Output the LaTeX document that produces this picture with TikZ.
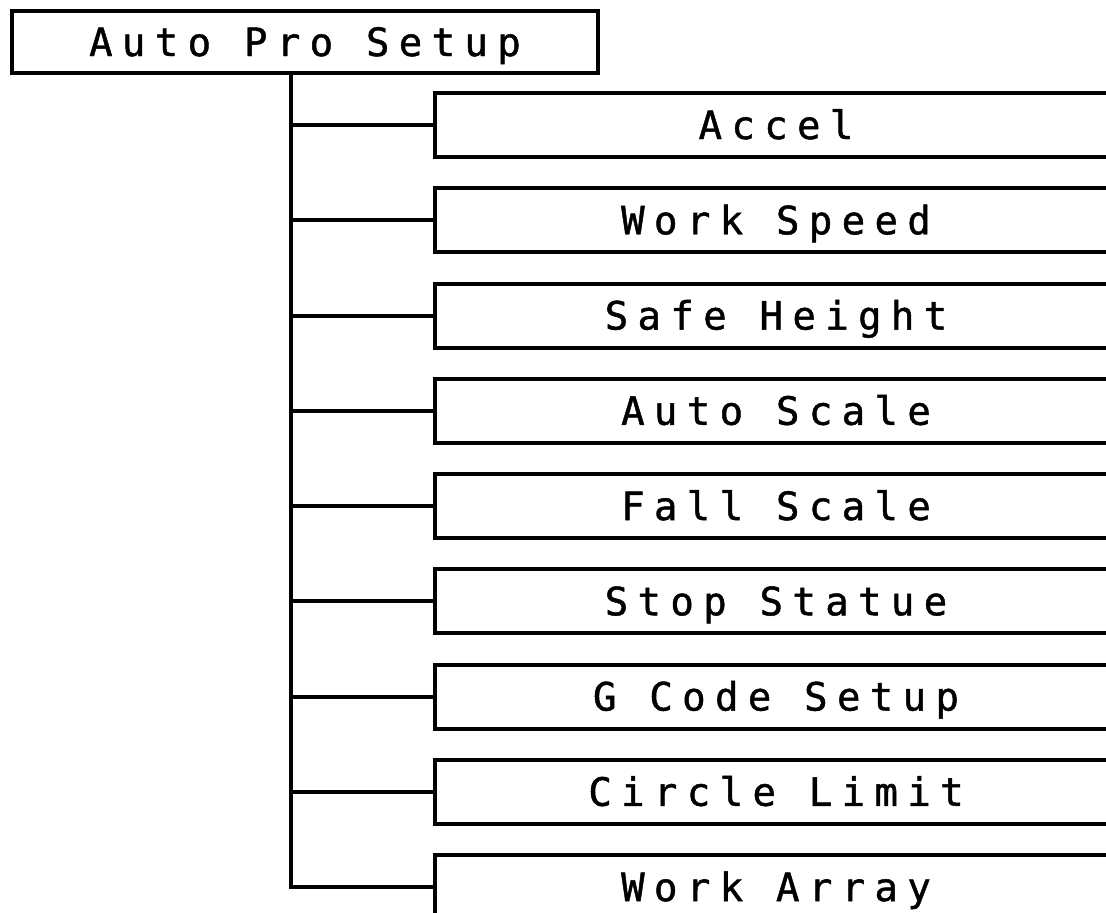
\documentclass[tikz,border=0pt]{standalone}
\usepackage{fontspec}
\usetikzlibrary{positioning}
\newfontfamily\menufont[LetterSpace=24, FakeBold=1.2]{DejaVu Sans Mono}

\begin{document}
\begin{tikzpicture}[
			x=0.5pt, y=-0.5pt,
			node distance=15.625pt,
			menu/.style={draw, line width=2pt, inner sep=0pt, outer sep=0pt,
				minimum height=32pt, text height=14pt, text depth=0pt,
				font=\menufont\fontsize{19.5}{21}\selectfont},
			sub/.style={menu, minimum width=341pt},
			line width=2pt
			]
			\useasboundingbox (0,0) rectangle (1106,912);
			\clip (0,0) rectangle (1106,912);
			
			% Menu principale
			\node[menu, minimum width=293pt, minimum height=31pt] (root) at (305,42) {Auto Pro Setup};
			\coordinate (trunk) at (291,73);
			
			% Voci del sottomenu
			\node[sub] (accel) at (776,125) {Accel};
			\node[sub] (speed) [below=of accel] {Work Speed};
			\node[sub] (safe) [below=of speed] {Safe Height};
			\node[sub] (auto) [below=of safe] {Auto Scale};
			\node[sub] (fall) [below=of auto] {Fall Scale};
			\node[sub] (stop) [below=of fall] {Stop Statue};
			\node[sub] (gcode) [below=of stop] {G Code Setup};
			\node[sub] (circle) [below=of gcode] {Circle Limit};
			\node[sub] (array) [below=of circle] {Work Array};
			
			% Collegamenti
			\draw (trunk) |- (array.west);
			\draw (trunk |- accel.west) -- (accel.west);
			\draw (trunk |- speed.west) -- (speed.west);
			\draw (trunk |- safe.west) -- (safe.west);
			\draw (trunk |- auto.west) -- (auto.west);
			\draw (trunk |- fall.west) -- (fall.west);
			\draw (trunk |- stop.west) -- (stop.west);
			\draw (trunk |- gcode.west) -- (gcode.west);
			\draw (trunk |- circle.west) -- (circle.west);
			
		\end{tikzpicture}
\end{document}
